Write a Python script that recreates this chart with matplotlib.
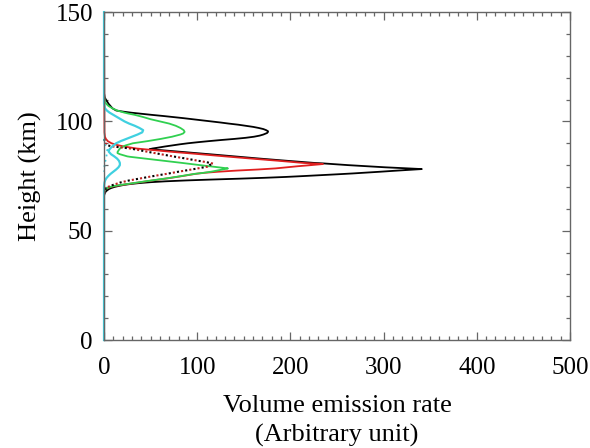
import matplotlib
matplotlib.use('Agg')
import matplotlib.pyplot as plt
from matplotlib.ticker import MultipleLocator

# emission profiles: height (km) and volume emission rate (arbitrary unit)
black_h = [150, 113, 111, 110, 109, 108, 107, 106, 105, 104.5, 104, 103.5, 103, 102.5, 102, 101.5,
           101, 100.5, 100, 99.5, 99, 98.5, 98, 97.5, 97, 96.5, 96, 95.5, 95.2,
           94.7, 94, 93.5, 93, 92.5, 92, 91.5, 91, 90.5, 90, 89.5, 89, 88.5, 88, 87.6, 87.3,
           87, 86, 85, 84, 83, 82, 81, 80.8, 80, 79.5, 79, 78.6, 78.2,
           77.8, 77.4, 77, 76.6, 76.2, 75.8, 75.4, 75, 74.6, 74.2, 73.8, 73.4, 73, 72.6, 72.2,
           71.8, 71.4, 71, 70.5, 70, 69.5, 69, 68, 67, 66, 0]
black_v = [0, 0, 0.8, 2, 3.5, 5, 7, 9, 13, 20, 29, 40, 51, 63, 74, 85,
           95, 105, 115, 125, 134, 144, 152, 160, 166, 171, 174, 176, 176,
           175, 171, 167, 161, 152, 140, 126, 113, 101, 90, 81, 73, 65, 58, 52, 49,
           57, 85, 113, 140, 167, 196, 226, 235, 262, 282, 302, 322, 341,
           326, 311, 297, 282, 267, 250, 232, 214, 195, 172, 145, 115, 88, 66, 50,
           38, 29, 22, 16, 11, 7.5, 5, 2, 0.7, 0, 0]

red_h = [150, 95, 93, 92, 91, 90, 89.2, 88.5, 87.6, 87, 86, 85.4, 85, 84, 83, 82, 81, 80.5,
         80, 79.5, 79, 78.5, 78, 77.5, 77, 76.5, 76, 75, 74, 73, 72, 71, 70.5, 70, 69.5, 69,
         68.5, 68, 67, 0]
red_v = [0, 0.5, 1, 2, 4, 8, 14, 22, 35, 50, 75, 92, 103, 130, 158, 187, 214, 235,
         222, 208, 196, 184, 165, 142, 123, 108, 98, 84, 69, 52, 36, 20, 12, 7, 4, 2,
         0.8, 0.3, 0, 0]

green_h = [150, 112, 110, 109, 108, 107, 106, 105, 104, 103.6, 103, 102, 101, 100, 99, 98, 97, 96,
           95.2, 94.5, 94, 93, 92, 91, 90, 89, 88, 87, 86, 85.5, 85, 84.5, 84, 83.8, 83, 82, 81,
           80, 79, 78.5, 78, 77.5, 77, 76.5, 76, 75, 74, 73, 72, 71, 70.5, 70, 69.5, 69, 68.5,
           68, 67, 0]
green_v = [0, 0, 0.5, 1, 2.5, 5, 9, 14, 22, 26, 33, 42, 50, 60, 70, 77, 82, 85.5,
           86.5, 85, 82, 73, 61, 47, 31, 23, 18, 16, 14.5, 14.5, 17, 21, 25, 28, 44, 64, 84,
           103, 123, 133, 127, 121, 115, 107, 97, 83, 68, 51, 35, 19, 11, 6.5, 3.5, 1.8, 0.7,
           0.2, 0, 0]

dot_h = [92, 90, 89, 88.5, 88, 87.6, 87, 86, 85, 84, 83, 82, 81.5, 81, 80.7, 80.3, 80, 79.3,
         78, 77, 76, 75, 74, 73, 72, 71, 70, 69, 68, 67]
dot_v = [0, 1.5, 4, 10, 20, 28, 36, 48, 61, 74, 88, 101, 108, 114, 117, 115, 113, 111,
         94, 80, 67, 53, 40, 27, 17, 10, 4, 1.5, 0.5, 0]

cyan_h = [150, 108, 106, 105, 104, 103, 102, 101, 100, 99, 98, 97, 96, 95, 94, 93, 92, 91, 90,
          89, 88, 87, 86.2, 85, 84, 83, 82, 81, 80, 79, 78, 77, 76, 75, 74, 73, 72, 71, 70, 0]
cyan_v = [0, 0, 1, 3, 6, 10, 14, 18, 22, 27, 33, 38, 42, 41, 36, 30, 24, 18, 13,
          10, 7.5, 5.5, 5, 7.5, 11, 14, 16, 17, 17, 15.5, 13, 10, 7, 4.5, 2.5, 1.2, 0.5, 0.2, 0, 0]

cyan_dot_h = [92, 89, 87, 85, 83, 81, 79, 77]
cyan_dot_v = [0, 1.5, 3.5, 3, 2, 1, 0.3, 0]

plt.rcParams['font.family'] = ['Liberation Serif', 'DejaVu Serif']

fig = plt.figure(figsize=(5.9, 4.48), dpi=100)
ax = fig.add_axes([0.1763, 0.241, 0.7897, 0.732])

lw = 1.3
ax.plot(black_v, black_h, color='black', lw=lw, clip_on=False)
ax.plot(red_v, red_h, color='#e02020', lw=lw, clip_on=False)
ax.plot(green_v, green_h, color='#30d050', lw=lw, clip_on=False)
ax.plot(dot_v, dot_h, color='black', lw=1.5, ls=(0, (1, 3)), clip_on=False)
ax.plot(dot_v, dot_h, color='#c02020', lw=1.5, ls=(2, (1, 3)), clip_on=False)
ax.plot(cyan_dot_v, cyan_dot_h, color='#40d0e0', lw=1.3, ls=(0, (1, 2)), clip_on=False)
ax.plot(cyan_v, cyan_h, color='#40d0e0', lw=1.6, clip_on=False)

ax.set_xlim(0, 500)
ax.set_ylim(0, 150)
ax.xaxis.set_major_locator(MultipleLocator(100))
ax.xaxis.set_minor_locator(MultipleLocator(10))
ax.yaxis.set_major_locator(MultipleLocator(50))
ax.yaxis.set_minor_locator(MultipleLocator(10))

for s in ax.spines.values():
    s.set_color('#666666')
    s.set_linewidth(1.0)
ax.tick_params(which='both', direction='in', top=True, right=True, color='#666666', width=0.9)
ax.tick_params(which='major', length=6)
ax.tick_params(which='minor', length=3)
ax.tick_params(axis='x', which='major', labelsize=18, pad=12)
ax.tick_params(axis='y', which='major', labelsize=18, pad=8)

ax.set_xlabel('Volume emission rate\n(Arbitrary unit)', fontsize=19, linespacing=1.35, labelpad=12)
ax.set_ylabel('Height (km)', fontsize=19, labelpad=10)

fig.savefig('out.png', dpi=100)
